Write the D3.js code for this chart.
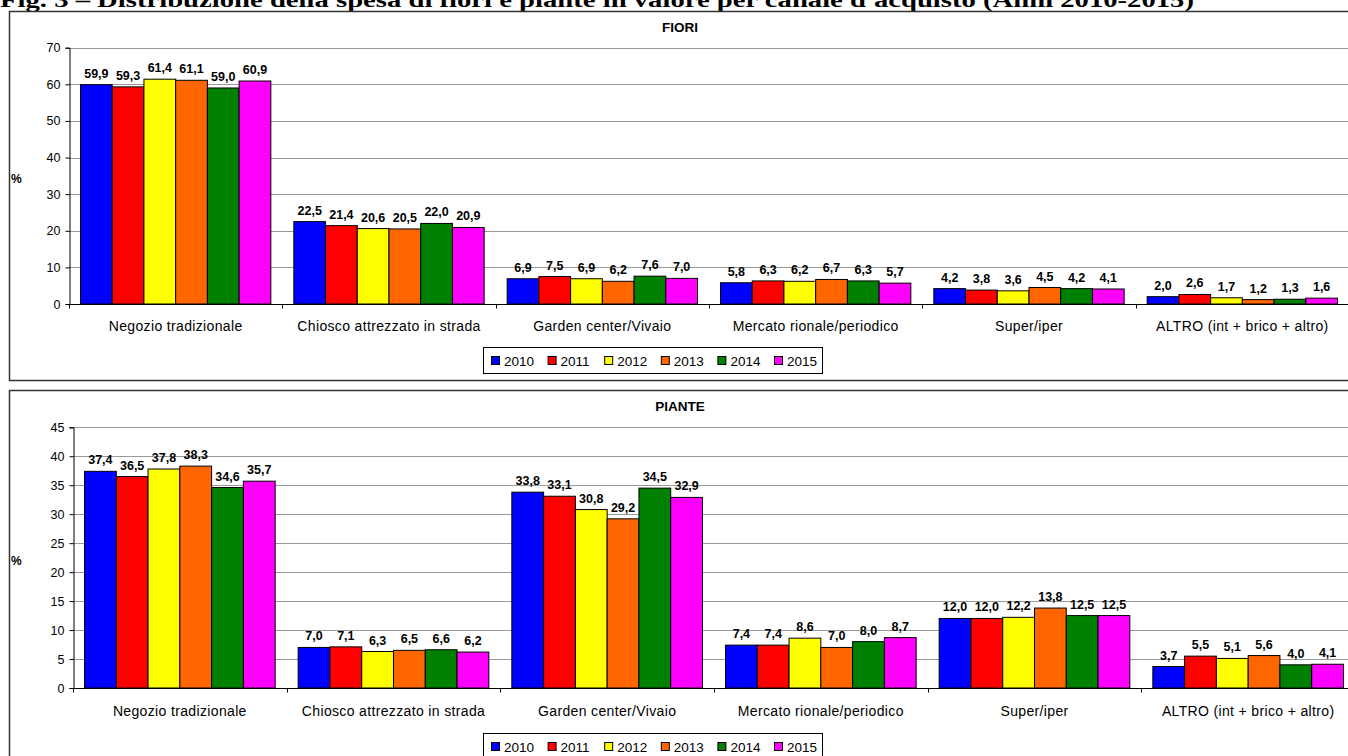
<!DOCTYPE html>
<html>
<head>
<meta charset="utf-8">
<script src="https://cdn.jsdelivr.net/npm/d3@7/dist/d3.min.js"></script>
<style>
  html, body { margin: 0; padding: 0; background: #fff; overflow: hidden; }
  svg { display: block; }
</style>
</head>
<body>
<svg id="chart" width="1348" height="756"></svg>
<script>
// Channels, years and shares (%) of spending per channel
const channels = ["Negozio tradizionale", "Chiosco attrezzato in strada", "Garden center/Vivaio",
                  "Mercato rionale/periodico", "Super/iper", "ALTRO (int + brico + altro)"];
const years = ["2010", "2011", "2012", "2013", "2014", "2015"];
const yearColors = ["#0000ff", "#ff0000", "#ffff00", "#ff6600", "#008000", "#ff00ff"];

// Flowers: one row per channel, one value per year
const fioriValues = [
  [59.9, 59.3, 61.4, 61.1, 59.0, 60.9],
  [22.5, 21.4, 20.6, 20.5, 22.0, 20.9],
  [6.9, 7.5, 6.9, 6.2, 7.6, 7.0],
  [5.8, 6.3, 6.2, 6.7, 6.3, 5.7],
  [4.2, 3.8, 3.6, 4.5, 4.2, 4.1],
  [2.0, 2.6, 1.7, 1.2, 1.3, 1.6]
];
// Plants: one row per channel, one value per year
const pianteValues = [
  [37.4, 36.5, 37.8, 38.3, 34.6, 35.7],
  [7.0, 7.1, 6.3, 6.5, 6.6, 6.2],
  [33.8, 33.1, 30.8, 29.2, 34.5, 32.9],
  [7.4, 7.4, 8.6, 7.0, 8.0, 8.7],
  [12.0, 12.0, 12.2, 13.8, 12.5, 12.5],
  [3.7, 5.5, 5.1, 5.6, 4.0, 4.1]
];
const fioriTicks = [0, 10, 20, 30, 40, 50, 60, 70];
const pianteTicks = [0, 5, 10, 15, 20, 25, 30, 35, 40, 45];

const itLocale = d3.formatLocale({ decimal: ",", thousands: ".", grouping: [3], currency: ["€", ""] });
const fmt1 = itLocale.format(".1f");

const svg = d3.select("#chart");
const SANS = "'Liberation Sans', Arial, sans-serif";

// Figure caption (sits at the very top edge of the page)
svg.append("text")
  .attr("x", 0).attr("y", 7)
  .attr("font-family", "'Liberation Serif', 'Times New Roman', serif")
  .attr("font-weight", "bold").attr("font-size", 21)
  .attr("textLength", 1194).attr("lengthAdjust", "spacingAndGlyphs")
  .attr("fill", "#000")
  .text("Fig. 3 – Distribuzione della spesa di fiori e piante in valore per canale d'acquisto (Anni 2010-2015)");

function drawPanel(cfg) {
  const g = svg.append("g");

  // frame
  g.append("rect")
    .attr("x", 9.5).attr("y", cfg.frameTop + 0.5)
    .attr("width", 1400).attr("height", cfg.frameHeight)
    .attr("fill", "#fff").attr("stroke", "#333").attr("stroke-width", 1.5);

  // panel title
  g.append("text")
    .attr("x", 680).attr("y", cfg.frameTop + 21)
    .attr("text-anchor", "middle")
    .attr("font-family", SANS).attr("font-weight", "bold").attr("font-size", 13.5)
    .text(cfg.title);

  const y = d3.scaleLinear().domain([0, cfg.max]).range([cfg.zeroY, cfg.topY]);
  const x0 = d3.scaleBand().domain(channels).range([cfg.left, cfg.right]).padding(0);
  const pad = 11.5;
  const x1 = d3.scaleBand().domain(years).range([pad, x0.bandwidth() - pad]).padding(0);
  const color = d3.scaleOrdinal().domain(years).range(yearColors);

  // horizontal gridlines
  g.append("g").selectAll("line")
    .data(cfg.ticks.filter(t => t > 0))
    .join("line")
    .attr("x1", cfg.left).attr("x2", cfg.right)
    .attr("y1", d => Math.round(y(d)) + 0.5).attr("y2", d => Math.round(y(d)) + 0.5)
    .attr("stroke", "#999").attr("stroke-width", 1.2);

  // bars
  const groups = g.append("g").selectAll("g")
    .data(cfg.values.map((row, i) => ({ channel: channels[i], row })))
    .join("g")
    .attr("transform", d => `translate(${x0(d.channel)},0)`);

  groups.selectAll("rect")
    .data(d => d.row.map((v, j) => ({ year: years[j], value: v })))
    .join("rect")
    .attr("x", d => x1(d.year))
    .attr("y", d => y(d.value))
    .attr("width", x1.bandwidth())
    .attr("height", d => y(0) - y(d.value))
    .attr("fill", d => color(d.year))
    .attr("stroke", "#000").attr("stroke-width", 1);

  // value labels
  groups.selectAll("text")
    .data(d => d.row.map((v, j) => ({ year: years[j], value: v })))
    .join("text")
    .attr("x", d => x1(d.year) + x1.bandwidth() / 2)
    .attr("y", d => y(d.value) - 7)
    .attr("text-anchor", "middle")
    .attr("font-family", SANS).attr("font-weight", "bold").attr("font-size", 12.5)
    .text(d => fmt1(d.value));

  // y axis
  const yAxis = d3.axisLeft(y).tickValues(cfg.ticks).tickSize(4).tickPadding(5)
    .tickFormat(d => d);
  const ya = g.append("g").attr("transform", `translate(${cfg.left + 0.5},0)`).call(yAxis);
  ya.select(".domain").attr("stroke", "#000");
  ya.selectAll(".tick line").attr("stroke", "#000");
  ya.selectAll(".tick text").attr("font-family", SANS).attr("font-size", 12.5).attr("fill", "#000");

  // x axis with category separators
  const xa = g.append("g").attr("transform", `translate(0,${cfg.zeroY + 0.5})`);
  xa.append("line").attr("x1", cfg.left).attr("x2", cfg.right)
    .attr("stroke", "#000");
  const bounds = channels.map(c => x0(c)).concat([cfg.right]);
  xa.selectAll("line.sep").data(bounds).join("line").attr("class", "sep")
    .attr("x1", d => Math.round(d) + 0.5).attr("x2", d => Math.round(d) + 0.5)
    .attr("y1", 0).attr("y2", 4).attr("stroke", "#000");
  xa.selectAll("text").data(channels).join("text")
    .attr("x", d => x0(d) + x0.bandwidth() / 2)
    .attr("y", cfg.catOffset)
    .attr("text-anchor", "middle")
    .attr("font-family", SANS).attr("font-size", 14).attr("letter-spacing", 0.35)
    .text(d => d);

  // y axis unit
  g.append("text")
    .attr("x", 11).attr("y", cfg.unitY)
    .attr("font-family", SANS).attr("font-weight", "bold").attr("font-size", 12)
    .text("%");

  // legend
  const lg = g.append("g").attr("transform", `translate(483,${cfg.legendTop})`);
  lg.append("rect").attr("x", 0.5).attr("y", 0.5).attr("width", 339).attr("height", 26)
    .attr("fill", "#fff").attr("stroke", "#000").attr("stroke-width", 1);
  const item = lg.selectAll("g.item").data(years).join("g").attr("class", "item")
    .attr("transform", (d, i) => `translate(${8 + i * 56.6},0)`);
  item.append("rect").attr("x", 0.5).attr("y", 9.5).attr("width", 8).attr("height", 8)
    .attr("fill", d => color(d)).attr("stroke", "#000").attr("stroke-width", 1);
  item.append("text").attr("x", 13).attr("y", 18.5)
    .attr("font-family", SANS).attr("font-size", 13.5)
    .text(d => d);
}

drawPanel({
  title: "FIORI", values: fioriValues, ticks: fioriTicks, max: 70,
  frameTop: 11, frameHeight: 369,
  left: 69, right: 1349, zeroY: 304, topY: 47.7,
  catOffset: 26, unitY: 183, legendTop: 347
});

drawPanel({
  title: "PIANTE", values: pianteValues, ticks: pianteTicks, max: 45,
  frameTop: 390, frameHeight: 400,
  left: 73, right: 1355, zeroY: 688, topY: 427.3,
  catOffset: 27, unitY: 565, legendTop: 733
});
</script>
</body>
</html>
